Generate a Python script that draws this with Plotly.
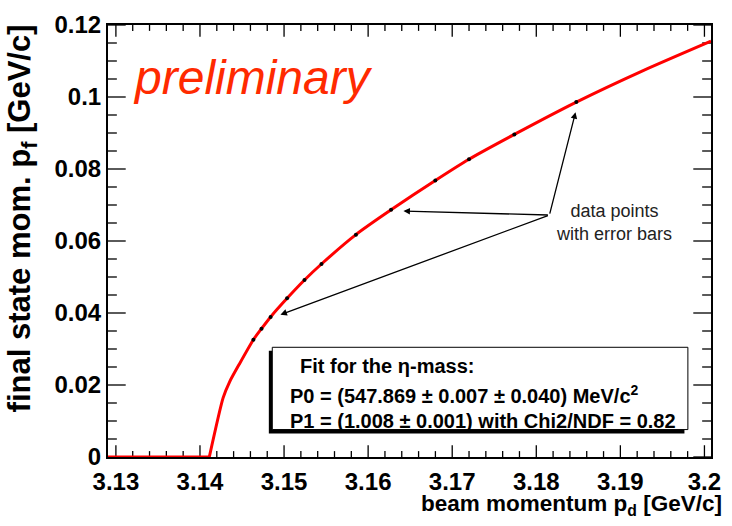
import plotly.graph_objects as go

# ---- data ----
data_x = [3.14635, 3.14732, 3.14840, 3.15036, 3.15243, 3.15445, 3.15855,
          3.16273, 3.16799, 3.17200, 3.17739, 3.18476]
data_y = [0.03257, 0.03565, 0.03891, 0.04408, 0.04917, 0.05361, 0.06177,
          0.06865, 0.07682, 0.08272, 0.08961, 0.09859]
data_err = [0.0003] * len(data_x)

# fit curve: flat part below threshold, then rising part
fit_flat_x = [3.12906, 3.14111]
fit_flat_y = [0.0, 0.0]
fit_x = [3.14111, 3.14275, 3.14354, 3.14471, 3.14635, 3.14732,
         3.14840, 3.15036, 3.15243, 3.15445, 3.15855, 3.16273, 3.16799,
         3.17200, 3.17739, 3.18476, 3.19271, 3.20078]
fit_y = [0.0, 0.01641, 0.02095, 0.02593, 0.03257, 0.03565,
         0.03891, 0.04408, 0.04917, 0.05361, 0.06177, 0.06865, 0.07682,
         0.08272, 0.08961, 0.09859, 0.10735, 0.11553]

x_tickvals = [3.13, 3.14, 3.15, 3.16, 3.17, 3.18, 3.19, 3.20]
x_ticktext = ["3.13", "3.14", "3.15", "3.16", "3.17", "3.18", "3.19", "3.2"]
y_tickvals = [0, 0.02, 0.04, 0.06, 0.08, 0.10, 0.12]
y_ticktext = ["0", "0.02", "0.04", "0.06", "0.08", "0.1", "0.12"]
x_minor_step = 0.002
y_minor_step = 0.005

fit_lines = [
    "Fit for the η-mass:",
    "P0 = (547.869 ± 0.007 ± 0.040) MeV/c<sup>2</sup>",
    "P1 = (1.008 ± 0.001) with Chi2/NDF = 0.82",
]

FONT = "Liberation Sans"
X_RANGE = [3.12906, 3.20078]
Y_RANGE = [0, 0.12]

# plot-area pixel geometry helpers (for overlays only)
L, R, T, B = 108, 721, 16, 457
W, H = R - L, B - T
def px(x):
    return (x - L) / W
def py(y):
    return (B - y) / H

# tick lengths (pixels) converted to axis units
XU = (X_RANGE[1] - X_RANGE[0]) / W   # x units per pixel
YU = (Y_RANGE[1] - Y_RANGE[0]) / H   # y units per pixel

def frame_ticks():
    tx, ty = [], []
    # x ticks (bottom and top)
    n_minor_x = int(round((X_RANGE[1] - 3.13) / x_minor_step))
    for i in range(n_minor_x + 1):
        v = 3.13 + i * x_minor_step
        if v > X_RANGE[1]:
            break
        major = i % 5 == 0
        ln = (12 if major else 6) * YU
        tx += [v, v, None, v, v, None]
        ty += [Y_RANGE[0], Y_RANGE[0] + ln, None, Y_RANGE[1], Y_RANGE[1] - ln, None]
    # y ticks (left and right)
    n_minor_y = int(round((Y_RANGE[1] - Y_RANGE[0]) / y_minor_step))
    for i in range(n_minor_y + 1):
        v = Y_RANGE[0] + i * y_minor_step
        major = i % 4 == 0
        ln = (18 if major else 9) * XU
        tx += [X_RANGE[0], X_RANGE[0] + ln, None, X_RANGE[1], X_RANGE[1] - ln, None]
        ty += [v, v, None, v, v, None]
    return tx, ty

fig = go.Figure()
tick_x, tick_y = frame_ticks()
fig.add_trace(go.Scatter(x=tick_x, y=tick_y, mode="lines",
                         line=dict(color="black", width=1.3),
                         hoverinfo="skip", showlegend=False, cliponaxis=False))
fig.add_trace(go.Scatter(x=fit_flat_x, y=fit_flat_y, mode="lines",
                         line=dict(color="#ff0000", width=3),
                         hoverinfo="skip", showlegend=False))
fig.add_trace(go.Scatter(x=fit_x, y=fit_y, mode="lines",
                         line=dict(color="#ff0000", width=3, shape="spline", smoothing=0.6),
                         hoverinfo="skip", showlegend=False))
fig.add_trace(go.Scatter(x=data_x, y=data_y, mode="markers",
                         marker=dict(color="black", size=4),
                         error_y=dict(type="data", array=data_err, color="black",
                                      thickness=1, width=0),
                         showlegend=False))

# text box with shadow
fig.add_shape(type="rect", xref="paper", yref="paper",
              x0=px(271.5), x1=px(694), y0=py(433), y1=py(348.5),
              fillcolor="black", line=dict(width=0), layer="above")
fig.add_shape(type="rect", xref="paper", yref="paper",
              x0=px(275), x1=px(697.5), y0=py(429), y1=py(345),
              fillcolor="white", line=dict(color="black", width=1), layer="above")

line_pos = [(301, 364), (291, 393), (291, 420)]
for txt, (lx, ly) in zip(fit_lines, line_pos):
    fig.add_annotation(x=px(lx), y=py(ly), xref="paper", yref="paper",
                       text=txt, showarrow=False, xanchor="left", yanchor="middle",
                       font=dict(family=FONT, size=20, color="black", weight="bold"))

# preliminary
fig.add_annotation(x=px(131), y=py(69.5), xref="paper", yref="paper",
                   text="preliminary", showarrow=False, xanchor="left", yanchor="middle",
                   font=dict(family=FONT, size=48, color="#ff2a00", style="italic"))

# data points label and arrows
fig.add_annotation(x=px(622), y=py(217.5), xref="paper", yref="paper",
                   text="data points<br>with error bars", showarrow=False,
                   xanchor="center", yanchor="middle", align="center",
                   font=dict(family=FONT, size=18, color="#222222"))
tail = (3.18156, 0.06721)
heads = [(3.18467, 0.09578), (3.16420, 0.06830), (3.14957, 0.03954)]
for hx, hy in heads:
    fig.add_annotation(x=hx, y=hy, xref="x", yref="y", ax=tail[0], ay=tail[1],
                       axref="x", ayref="y", text="", showarrow=True,
                       arrowhead=2, arrowsize=1, arrowwidth=1.3,
                       arrowcolor="black", standoff=0, startstandoff=0)

# axis titles
fig.add_annotation(x=px(734), y=py(506), xref="paper", yref="paper",
                   text="beam momentum p<sub>d</sub> [GeV/c]", showarrow=False,
                   xanchor="right", yanchor="middle",
                   font=dict(family=FONT, size=22.5, color="black", weight="bold"))
fig.add_annotation(x=px(21), y=py(213), xref="paper", yref="paper",
                   text="final state mom. p<sub>f</sub> [GeV/c]", showarrow=False,
                   textangle=-90, xanchor="center", yanchor="middle",
                   font=dict(family=FONT, size=31, color="black", weight="bold"))

axis_common = dict(showgrid=False, zeroline=False,
                   showline=True, linewidth=2,
                   linecolor="black", ticks="", mirror=True,
                   tickfont=dict(family=FONT, size=24, color="black", weight="bold"))

fig.update_layout(
    xaxis=dict(range=X_RANGE, tickmode="array", tickvals=x_tickvals,
               ticktext=x_ticktext, ticklabelstandoff=2, **axis_common),
    yaxis=dict(range=Y_RANGE, tickmode="array", tickvals=y_tickvals,
               ticktext=y_ticktext, **axis_common),
    width=732, height=526,
    margin=dict(l=L, r=732 - R, t=T, b=526 - B),
    paper_bgcolor="white", plot_bgcolor="white",
    showlegend=False,
)

fig.write_html("out.html")
